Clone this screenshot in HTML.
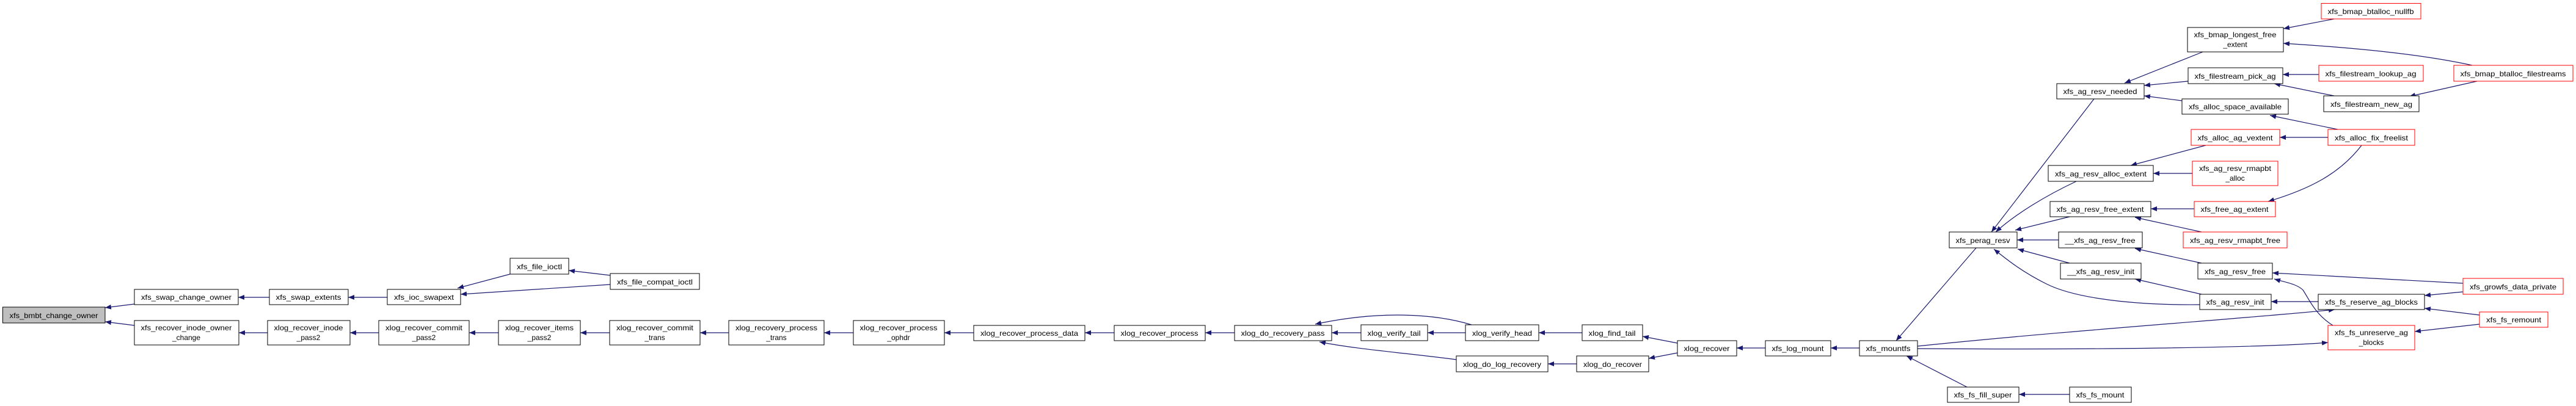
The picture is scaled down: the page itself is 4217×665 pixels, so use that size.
<!DOCTYPE html>
<html><head><meta charset="utf-8"><style>html,body{margin:0;padding:0;background:#fff}svg{display:block}text{font-family:"Liberation Sans",sans-serif;font-size:12px;fill:#000}</style></head><body>
<svg width="4217" height="665" viewBox="0 0 4217 665" xmlns="http://www.w3.org/2000/svg">
<defs><marker id="a" viewBox="0 0 10 8" refX="10" refY="4" markerWidth="10" markerHeight="8" markerUnits="userSpaceOnUse" orient="auto"><path d="M0,0 L10,4 L0,8 z" fill="#191970"/></marker></defs>
<g fill="none" stroke="#191970" stroke-width="1.2" marker-end="url(#a)">
<path d="M220,498 L172,504"/>
<path d="M220,533 L172,527"/>
<path d="M441,487 L390,487"/>
<path d="M634,487 L570,487"/>
<path d="M835,449 L749,472"/>
<path d="M999,451 L931,443"/>
<path d="M999,466 L754,482"/>
<path d="M438,545 L391,545"/>
<path d="M620,545 L573,545"/>
<path d="M816,545 L768,545"/>
<path d="M998,545 L950,545"/>
<path d="M1193,545 L1146,545"/>
<path d="M1397,545 L1349,545"/>
<path d="M1594,545 L1546,545"/>
<path d="M1824,545 L1776,545"/>
<path d="M2021,545 L1973,545"/>
<path d="M2228,545 L2180,545"/>
<path d="M2399,545 L2337,545"/>
<path d="M2409,532 C2350,514 2260,508 2153,531"/>
<path d="M2384,589 C2300,578 2220,572 2160,560"/>
<path d="M2590,545 L2519,545"/>
<path d="M2746,562 L2689,551"/>
<path d="M2746,578 L2699,587"/>
<path d="M2581,596 L2534,596"/>
<path d="M2890,570 L2843,570"/>
<path d="M3044,570 L2997,570"/>
<path d="M3235,406 L3104,558"/>
<path d="M3220,634 L3121,583"/>
<path d="M3388,646 L3305,646"/>
<path d="M3139,567 C3400,540 3700,520 3822,507"/>
<path d="M3139,571 C3400,573 3700,570 3811,561"/>
<path d="M3428,162 L3260,380"/>
<path d="M3399,297 C3350,320 3300,350 3267,380"/>
<path d="M3388,355 L3299,377"/>
<path d="M3370,393 L3302,393"/>
<path d="M3388,431 L3303,408"/>
<path d="M3601,499 C3500,500 3400,490 3350,465 C3310,445 3285,425 3264,408"/>
<path d="M3606,85 L3478,136"/>
<path d="M3582,133 L3510,140"/>
<path d="M3572,165 L3510,157"/>
<path d="M3611,238 L3488,271"/>
<path d="M3589,284 L3525,284"/>
<path d="M3592,342 L3521,342"/>
<path d="M3604,380 L3495,356"/>
<path d="M3604,431 L3495,407"/>
<path d="M3604,482 L3495,457"/>
<path d="M3821,31 L3738,47"/>
<path d="M4047,107 C3960,88 3850,78 3738,71"/>
<path d="M3796,122 L3737,122"/>
<path d="M3821,157 L3723,137"/>
<path d="M4055,133 L3944,158"/>
<path d="M3827,212 L3716,189"/>
<path d="M3811,225 L3732,225"/>
<path d="M3866,238 C3830,285 3780,310 3713,330"/>
<path d="M4032,464 L3720,447"/>
<path d="M3819,533 C3790,515 3780,490 3770,475 C3760,465 3740,462 3723,457"/>
<path d="M3795,494 L3718,494"/>
<path d="M4032,478 L3969,484"/>
<path d="M4059,516 L3969,505"/>
<path d="M4059,531 L3953,543"/>
</g>
<g stroke="#000" stroke-width="1" fill="#fff">
<rect x="4.5" y="503" width="167.5" height="26" fill="#bfbfbf"/>
<rect x="220" y="474" width="170" height="25"/>
<rect x="441" y="474" width="129" height="25"/>
<rect x="634" y="474" width="120" height="25"/>
<rect x="835" y="423" width="96" height="26"/>
<rect x="999" y="448" width="146" height="26"/>
<rect x="220" y="525" width="171" height="40"/>
<rect x="438" y="525" width="135" height="40"/>
<rect x="620" y="525" width="148" height="40"/>
<rect x="816" y="525" width="134" height="40"/>
<rect x="998" y="525" width="148" height="40"/>
<rect x="1193" y="525" width="156" height="40"/>
<rect x="1397" y="525" width="149" height="40"/>
<rect x="1594" y="533" width="182" height="25"/>
<rect x="1824" y="533" width="149" height="25"/>
<rect x="2021" y="533" width="159" height="25"/>
<rect x="2228" y="532" width="109" height="26"/>
<rect x="2399" y="532" width="120" height="26"/>
<rect x="2590" y="532" width="99" height="26"/>
<rect x="2746" y="558" width="97" height="25"/>
<rect x="2890" y="558" width="107" height="25"/>
<rect x="3044" y="558" width="95" height="25"/>
<rect x="2384" y="583" width="150" height="26"/>
<rect x="2581" y="583" width="118" height="26"/>
<rect x="3188" y="634" width="117" height="25"/>
<rect x="3388" y="634" width="101" height="25"/>
<rect x="3191" y="380" width="111" height="26"/>
<rect x="3367" y="137" width="143" height="25"/>
<rect x="3353" y="271" width="172" height="26"/>
<rect x="3356" y="330" width="165" height="25"/>
<rect x="3370" y="380" width="137" height="26"/>
<rect x="3373" y="431" width="132" height="26"/>
<rect x="3581" y="45" width="157" height="40"/>
<rect x="3582" y="111" width="155" height="26"/>
<rect x="3572" y="162" width="174" height="25"/>
<rect x="3598" y="431" width="122" height="26"/>
<rect x="3601" y="482" width="117" height="25"/>
<rect x="3804" y="157" width="156" height="26"/>
<rect x="3795" y="482" width="174" height="25"/>
</g>
<g stroke="#ff0000" stroke-width="1" fill="#fff">
<rect x="3587" y="212" width="145" height="26"/>
<rect x="3589" y="264" width="140" height="40"/>
<rect x="3592" y="330" width="133" height="25"/>
<rect x="3574" y="380" width="170" height="26"/>
<rect x="3800" y="5.5" width="163" height="25.5"/>
<rect x="3796" y="107" width="171" height="26"/>
<rect x="3811" y="212" width="142" height="26"/>
<rect x="3811" y="533" width="142" height="40"/>
<rect x="4017" y="107" width="195" height="26"/>
<rect x="4032" y="456" width="164" height="26"/>
<rect x="4059" y="511" width="112" height="25"/>
</g>
<g text-anchor="middle" lengthAdjust="spacingAndGlyphs">
<text x="88" y="521" textLength="145" lengthAdjust="spacingAndGlyphs">xfs_bmbt_change_owner</text>
<text x="305" y="491" textLength="148" lengthAdjust="spacingAndGlyphs">xfs_swap_change_owner</text>
<text x="505" y="491" textLength="107" lengthAdjust="spacingAndGlyphs">xfs_swap_extents</text>
<text x="694" y="491" textLength="98" lengthAdjust="spacingAndGlyphs">xfs_ioc_swapext</text>
<text x="883" y="441" textLength="74" lengthAdjust="spacingAndGlyphs">xfs_file_ioctl</text>
<text x="1072" y="466" textLength="124" lengthAdjust="spacingAndGlyphs">xfs_file_compat_ioctl</text>
<text x="305" y="541" textLength="149" lengthAdjust="spacingAndGlyphs">xfs_recover_inode_owner</text><text x="305" y="557">_change</text>
<text x="505" y="541" textLength="113" lengthAdjust="spacingAndGlyphs">xlog_recover_inode</text><text x="505" y="557">_pass2</text>
<text x="694" y="541" textLength="126" lengthAdjust="spacingAndGlyphs">xlog_recover_commit</text><text x="694" y="557">_pass2</text>
<text x="883" y="541" textLength="112" lengthAdjust="spacingAndGlyphs">xlog_recover_items</text><text x="883" y="557">_pass2</text>
<text x="1072" y="541" textLength="126" lengthAdjust="spacingAndGlyphs">xlog_recover_commit</text><text x="1072" y="557">_trans</text>
<text x="1271" y="541" textLength="134" lengthAdjust="spacingAndGlyphs">xlog_recovery_process</text><text x="1271" y="557">_trans</text>
<text x="1471" y="541" textLength="127" lengthAdjust="spacingAndGlyphs">xlog_recover_process</text><text x="1471" y="557">_ophdr</text>
<text x="1685" y="550" textLength="160" lengthAdjust="spacingAndGlyphs">xlog_recover_process_data</text>
<text x="1898" y="550" textLength="127" lengthAdjust="spacingAndGlyphs">xlog_recover_process</text>
<text x="2100" y="550" textLength="137" lengthAdjust="spacingAndGlyphs">xlog_do_recovery_pass</text>
<text x="2282" y="550" textLength="87" lengthAdjust="spacingAndGlyphs">xlog_verify_tail</text>
<text x="2459" y="550" textLength="98" lengthAdjust="spacingAndGlyphs">xlog_verify_head</text>
<text x="2639" y="550" textLength="77" lengthAdjust="spacingAndGlyphs">xlog_find_tail</text>
<text x="2794" y="575" textLength="75" lengthAdjust="spacingAndGlyphs">xlog_recover</text>
<text x="2943" y="575" textLength="85" lengthAdjust="spacingAndGlyphs">xfs_log_mount</text>
<text x="3091" y="575" textLength="73" lengthAdjust="spacingAndGlyphs">xfs_mountfs</text>
<text x="2459" y="601" textLength="128" lengthAdjust="spacingAndGlyphs">xlog_do_log_recovery</text>
<text x="2640" y="601" textLength="96" lengthAdjust="spacingAndGlyphs">xlog_do_recover</text>
<text x="3246" y="651" textLength="95" lengthAdjust="spacingAndGlyphs">xfs_fs_fill_super</text>
<text x="3438" y="651" textLength="79" lengthAdjust="spacingAndGlyphs">xfs_fs_mount</text>
<text x="3246" y="398" textLength="89" lengthAdjust="spacingAndGlyphs">xfs_perag_resv</text>
<text x="3438" y="154" textLength="121" lengthAdjust="spacingAndGlyphs">xfs_ag_resv_needed</text>
<text x="3439" y="289" textLength="150" lengthAdjust="spacingAndGlyphs">xfs_ag_resv_alloc_extent</text>
<text x="3438" y="347" textLength="143" lengthAdjust="spacingAndGlyphs">xfs_ag_resv_free_extent</text>
<text x="3438" y="398" textLength="115" lengthAdjust="spacingAndGlyphs">__xfs_ag_resv_free</text>
<text x="3439" y="449" textLength="110" lengthAdjust="spacingAndGlyphs">__xfs_ag_resv_init</text>
<text x="3659" y="61" textLength="135" lengthAdjust="spacingAndGlyphs">xfs_bmap_longest_free</text><text x="3659" y="77">_extent</text>
<text x="3659" y="129" textLength="133" lengthAdjust="spacingAndGlyphs">xfs_filestream_pick_ag</text>
<text x="3659" y="179" textLength="152" lengthAdjust="spacingAndGlyphs">xfs_alloc_space_available</text>
<text x="3659" y="230" textLength="123" lengthAdjust="spacingAndGlyphs">xfs_alloc_ag_vextent</text>
<text x="3659" y="280" textLength="118" lengthAdjust="spacingAndGlyphs">xfs_ag_resv_rmapbt</text><text x="3659" y="296">_alloc</text>
<text x="3658" y="347" textLength="111" lengthAdjust="spacingAndGlyphs">xfs_free_ag_extent</text>
<text x="3659" y="398" textLength="148" lengthAdjust="spacingAndGlyphs">xfs_ag_resv_rmapbt_free</text>
<text x="3659" y="449" textLength="100" lengthAdjust="spacingAndGlyphs">xfs_ag_resv_free</text>
<text x="3659" y="499" textLength="95" lengthAdjust="spacingAndGlyphs">xfs_ag_resv_init</text>
<text x="3881" y="23" textLength="141" lengthAdjust="spacingAndGlyphs">xfs_bmap_btalloc_nullfb</text>
<text x="3881" y="125" textLength="149" lengthAdjust="spacingAndGlyphs">xfs_filestream_lookup_ag</text>
<text x="3882" y="175" textLength="134" lengthAdjust="spacingAndGlyphs">xfs_filestream_new_ag</text>
<text x="3882" y="230" textLength="120" lengthAdjust="spacingAndGlyphs">xfs_alloc_fix_freelist</text>
<text x="3882" y="499" textLength="152" lengthAdjust="spacingAndGlyphs">xfs_fs_reserve_ag_blocks</text>
<text x="3882" y="549" textLength="120" lengthAdjust="spacingAndGlyphs">xfs_fs_unreserve_ag</text><text x="3882" y="565">_blocks</text>
<text x="4114" y="125" textLength="173" lengthAdjust="spacingAndGlyphs">xfs_bmap_btalloc_filestreams</text>
<text x="4114" y="474" textLength="142" lengthAdjust="spacingAndGlyphs">xfs_growfs_data_private</text>
<text x="4115" y="528" textLength="90" lengthAdjust="spacingAndGlyphs">xfs_fs_remount</text>
</g>
</svg>
</body></html>
